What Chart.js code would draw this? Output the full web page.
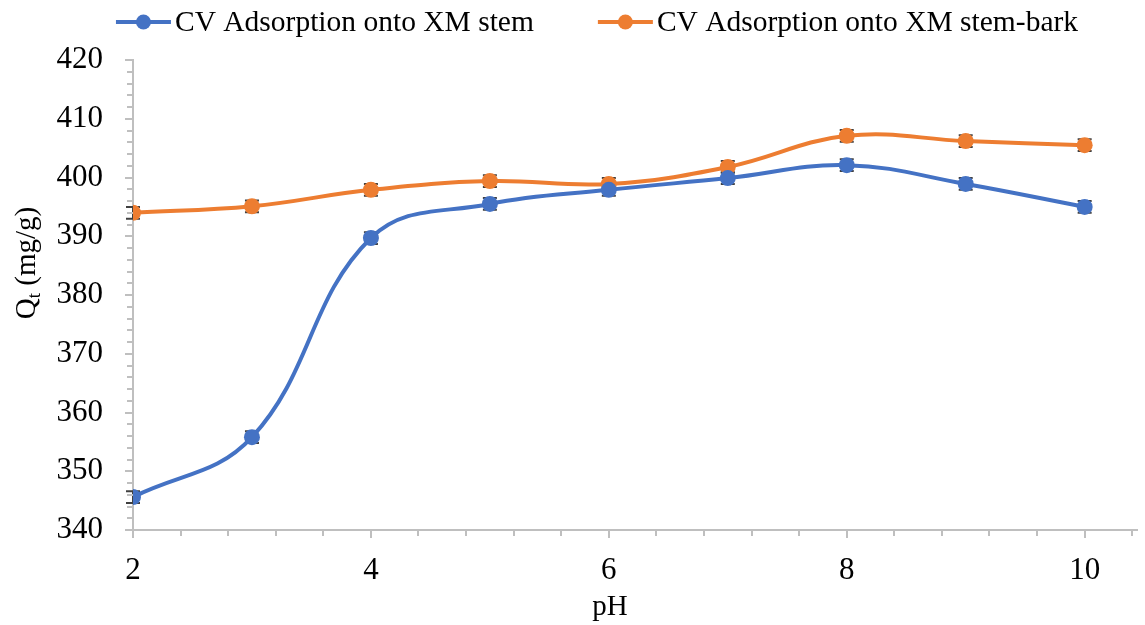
<!DOCTYPE html>
<html>
<head>
<meta charset="utf-8">
<title>Qt vs pH</title>
<script src="https://cdn.jsdelivr.net/npm/chart.js@4.4.1/dist/chart.umd.min.js"></script>
<style>
  html, body { margin: 0; padding: 0; background: #fff; }
  #wrap { width: 1145px; height: 625px; }
</style>
</head>
<body>
<div id="wrap"><canvas id="chart"></canvas></div>
<script>
// pH of the dye solution and adsorbed amount Qt (mg/g)
const phValues = [2, 3, 4, 5, 6, 7, 8, 9, 10];
const stemQt = [345.6, 355.8, 389.7, 395.5, 397.9, 399.9, 402.1, 398.9, 395.0];
const barkQt = [394.0, 395.1, 397.9, 399.4, 398.9, 401.8, 407.1, 406.2, 405.5];
const stemErr = [1.0, 1.0, 1.0, 1.0, 1.0, 1.0, 1.0, 1.0, 1.0];
const barkErr = [1.0, 1.0, 1.0, 1.0, 1.0, 1.0, 1.0, 1.0, 1.0];
const seriesNames = ['CV Adsorption onto XM stem', 'CV Adsorption onto XM stem-bark'];
const xTickValues = [2, 4, 6, 8, 10];
const yTickValues = [340, 350, 360, 370, 380, 390, 400, 410, 420];

const BLUE = '#4472C4';
const ORANGE = '#ED7D31';
const AXIS = '#BFBFBF';
const SERIF = '"Liberation Serif", "Times New Roman", serif';

const toPoints = (ys) => phValues.map((x, i) => ({ x: x, y: ys[i] }));

// vertical error bars with small caps, drawn under the markers
const errorBars = {
  id: 'errorBars',
  beforeDatasetsDraw(chart) {
    const { ctx, scales: { x, y } } = chart;
    const errs = [stemErr, barkErr];
    ctx.save();
    ctx.strokeStyle = '#404040';
    ctx.lineWidth = 2;
    chart.data.datasets.forEach((ds, di) => {
      ds.data.forEach((p, i) => {
        const px = x.getPixelForValue(p.x);
        const top = y.getPixelForValue(p.y + errs[di][i]);
        const bot = y.getPixelForValue(p.y - errs[di][i]);
        ctx.beginPath();
        ctx.moveTo(px, top); ctx.lineTo(px, bot);
        ctx.moveTo(px - 7, top); ctx.lineTo(px + 7, top);
        ctx.moveTo(px - 7, bot); ctx.lineTo(px + 7, bot);
        ctx.stroke();
      });
    });
    ctx.restore();
  }
};

// major and minor tick marks on both axes
const tickMarks = {
  id: 'tickMarks',
  afterDraw(chart) {
    const { ctx, scales: { x, y } } = chart;
    ctx.save();
    ctx.strokeStyle = AXIS;
    ctx.lineWidth = 2;
    ctx.beginPath();
    for (let k = 0; ; k++) {
      const v = 2 + k * 0.4;
      if (v > x.max + 1e-6) break;
      const px = Math.round(x.getPixelForValue(v));
      const major = k % 5 === 0;
      ctx.moveTo(px, y.bottom);
      ctx.lineTo(px, y.bottom + (major ? 8 : 6));
    }
    for (let v = 340; v <= 420; v += 2) {
      const py = Math.round(y.getPixelForValue(v));
      const major = v % 10 === 0;
      ctx.moveTo(x.left, py);
      ctx.lineTo(x.left - (major ? 8 : 6), py);
    }
    ctx.stroke();
    ctx.restore();
  }
};

// legend and axis titles
const labels = {
  id: 'labels',
  afterDraw(chart) {
    const ctx = chart.ctx;
    ctx.save();
    ctx.fillStyle = '#000';
    ctx.textBaseline = 'middle';

    // legend row
    ctx.font = '29.5px ' + SERIF;
    const colors = [BLUE, ORANGE];
    const symW = 55, gap = 4, between = 64;
    const widths = seriesNames.map(s => ctx.measureText(s).width);
    const total = widths.reduce((a, w) => a + symW + gap + w, 0) + between;
    let lx = 597 - total / 2;
    const ly = 22;
    seriesNames.forEach((name, i) => {
      ctx.strokeStyle = colors[i];
      ctx.lineWidth = 4;
      ctx.beginPath();
      ctx.moveTo(lx, ly); ctx.lineTo(lx + symW, ly);
      ctx.stroke();
      ctx.fillStyle = colors[i];
      ctx.beginPath();
      ctx.arc(lx + symW / 2, ly, 7.5, 0, Math.PI * 2);
      ctx.fill();
      ctx.fillStyle = '#000';
      ctx.textAlign = 'left';
      ctx.fillText(name, lx + symW + gap, ly + 1);
      lx += symW + gap + widths[i] + between;
    });

    // x title
    ctx.font = '29px ' + SERIF;
    ctx.textAlign = 'center';
    ctx.textBaseline = 'alphabetic';
    ctx.fillText('pH', 610, 615);

    // y title with subscript t
    ctx.translate(35, 263);
    ctx.rotate(-Math.PI / 2);
    const big = '29px ' + SERIF, small = '19px ' + SERIF;
    ctx.font = big; const wQ = ctx.measureText('Q').width;
    ctx.font = small; const wt = ctx.measureText('t').width;
    ctx.font = big; const wr = ctx.measureText(' (mg/g)').width;
    let tx = -(wQ + wt + wr) / 2;
    ctx.textAlign = 'left';
    ctx.font = big; ctx.fillText('Q', tx, 0); tx += wQ;
    ctx.font = small; ctx.fillText('t', tx, 5); tx += wt;
    ctx.font = big; ctx.fillText(' (mg/g)', tx, 0);
    ctx.restore();
  }
};

const series = (label, ys, color) => ({
  label: label,
  data: toPoints(ys),
  borderColor: color,
  backgroundColor: color,
  borderWidth: 4,
  pointRadius: 8,
  pointHoverRadius: 8,
  pointBorderWidth: 0,
  tension: 0.4,
  fill: false
});

new Chart(document.getElementById('chart'), {
  type: 'line',
  data: {
    datasets: [
      series(seriesNames[0], stemQt, BLUE),
      series(seriesNames[1], barkQt, ORANGE)
    ]
  },
  options: {
    responsive: true,
    maintainAspectRatio: false,
    animation: false,
    events: [],
    layout: { padding: { top: 60, right: 2, left: 0, bottom: 0 } },
    plugins: { legend: { display: false }, tooltip: { enabled: false } },
    scales: {
      x: {
        type: 'linear',
        min: 2,
        max: 10.44,
        grid: { display: false },
        border: { display: true, color: AXIS, width: 2 },
        afterBuildTicks: (s) => { s.ticks = xTickValues.map(v => ({ value: v })); },
        afterFit: (s) => { s.height = 95; },
        ticks: { color: '#000', font: { family: SERIF, size: 31 }, padding: 14, maxRotation: 0 }
      },
      y: {
        min: 340,
        max: 420,
        grid: { display: false },
        border: { display: true, color: AXIS, width: 2 },
        afterBuildTicks: (s) => { s.ticks = yTickValues.map(v => ({ value: v })); },
        afterFit: (s) => { s.width = 133; },
        ticks: { color: '#000', font: { family: SERIF, size: 31 }, padding: 22 }
      }
    }
  },
  plugins: [errorBars, tickMarks, labels]
});
</script>
</body>
</html>
